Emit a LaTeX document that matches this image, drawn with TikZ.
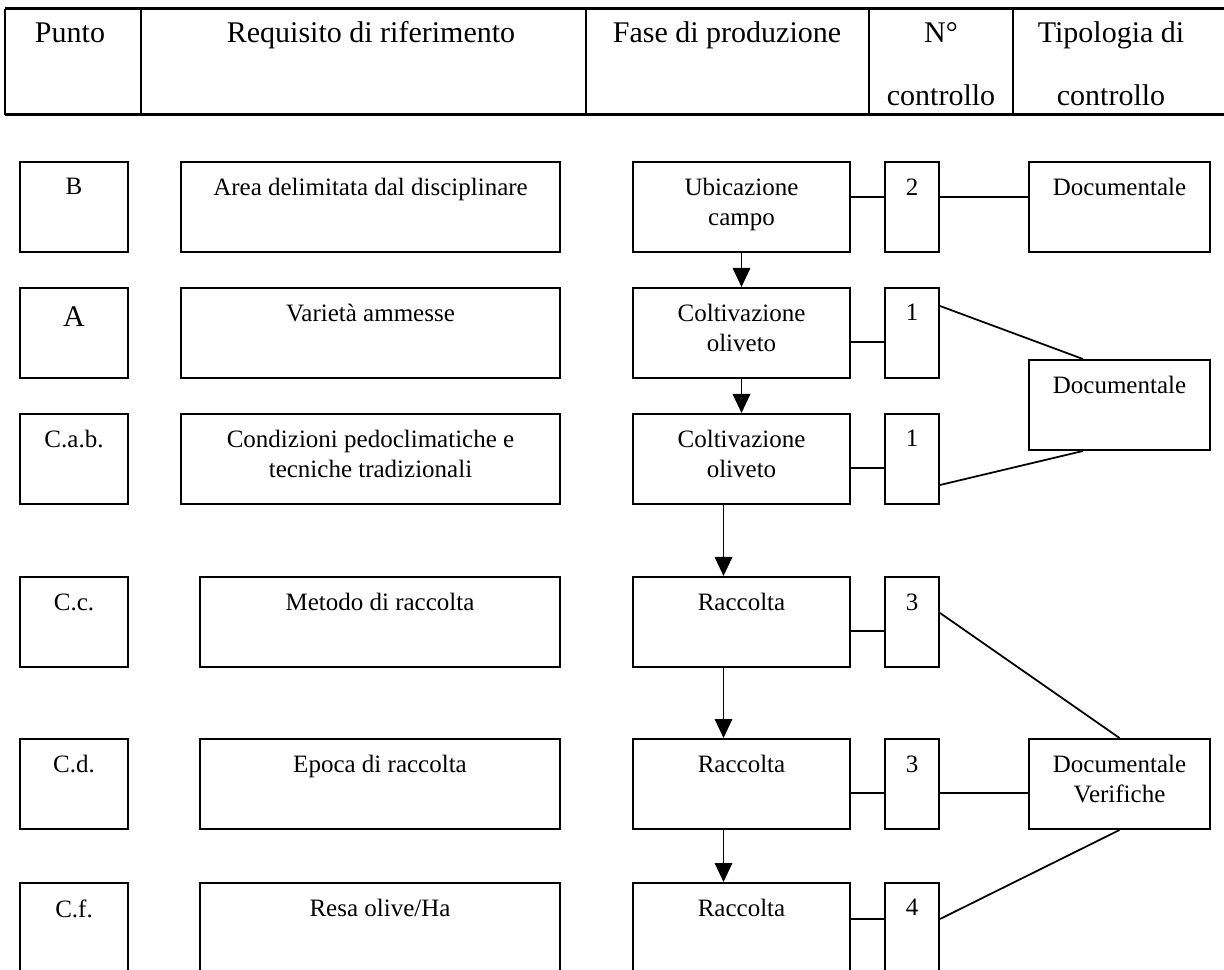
\documentclass[tikz,border=0pt]{standalone}
\usepackage{fontspec}
\setmainfont{Liberation Serif}
\usetikzlibrary{arrows.meta,calc}

\tikzset{
  cellbox/.style={draw,line width=0.8pt,minimum height=36pt,inner sep=0pt},
  ptbox/.style={cellbox,minimum width=43.2pt},
  reqbox/.style={cellbox,minimum width=151.6pt},
  reqshort/.style={cellbox,minimum width=144pt},
  fasebox/.style={cellbox,minimum width=86.8pt},
  numbox/.style={cellbox,minimum width=21.6pt},
  tipobox/.style={cellbox,minimum width=72.4pt},
  intext/.style={label={[align=center,anchor=north,inner sep=0pt,yshift=-6.8pt]north:#1}},
  hdtext/.style={anchor=base,align=center,inner sep=0pt,font=\fontsize{12pt}{25.2pt}\selectfont},
  link/.style={line width=0.7pt},
  flow/.style={line width=0.7pt,-{Triangle[width=7pt,length=7.6pt]}}
}

\begin{document}
\begin{tikzpicture}[x=0.4pt,y=-0.4pt,font=\fontsize{10pt}{12pt}\selectfont]
\useasboundingbox (0,0) rectangle (1224,970);
% intestazione
\draw[line width=1.2pt] (5,9) -- (1224,9);
\draw[line width=1.2pt] (5,115) -- (1224,115);
\foreach \xc in {5,141,586,869,1013} \draw[line width=0.6pt] (\xc,9) -- (\xc,115);
\node[hdtext] (hdPunto) at (70,43) {Punto};
\node[hdtext] (hdReq) at (371,43) {Requisito di riferimento};
\node[hdtext] (hdFase) at (727,43) {Fase di produzione};
\node[hdtext] (hdNum) at (941,106) {N°\\controllo};
\node[hdtext] (hdTipo) at (1111,106) {Tipologia di\\controllo};

% righe
\node[ptbox,intext=B] (pt1) at (74,207) {};
\node[reqbox,intext=Area delimitata dal disciplinare] (req1) at (370.5,207) {};
\node[fasebox,intext=Ubicazione\\campo] (fase1) at (741.5,207) {};
\node[numbox,intext=2] (num1) at (912,207) {};
\node[tipobox,intext=Documentale] (tipo1) at (1119.5,207) {};

\node[ptbox,label={[anchor=north,inner sep=0pt,yshift=-7.6pt,font=\fontsize{12pt}{14pt}\selectfont]north:A}] (pt2) at (74,333) {};
\node[reqbox,intext=Varietà ammesse] (req2) at (370.5,333) {};
\node[fasebox,intext=Coltivazione\\oliveto] (fase2) at (741.5,333) {};
\node[numbox,intext=1] (num2) at (912,333) {};
\node[tipobox,intext=Documentale] (tipo2) at (1119.5,405) {};

\node[ptbox,intext=C.a.b.] (pt3) at (74,459) {};
\node[reqbox,intext=Condizioni pedoclimatiche e\\tecniche tradizionali] (req3) at (370.5,459) {};
\node[fasebox,intext=Coltivazione\\oliveto] (fase3) at (741.5,459) {};
\node[numbox,intext=1] (num3) at (912,459) {};

\node[ptbox,intext=C.c.] (pt4) at (74,622) {};
\node[reqshort,intext=Metodo di raccolta] (req4) at (380,622) {};
\node[fasebox,intext=Raccolta] (fase4) at (741.5,622) {};
\node[numbox,intext=3] (num4) at (912,622) {};
\node[tipobox,intext=Documentale\\Verifiche] (tipo3) at (1119.5,784) {};

\node[ptbox,intext=C.d.] (pt5) at (74,784) {};
\node[reqshort,intext=Epoca di raccolta] (req5) at (380,784) {};
\node[fasebox,intext=Raccolta] (fase5) at (741.5,784) {};
\node[numbox,intext=3] (num5) at (912,784) {};

\node[ptbox,intext=C.f.] (pt6) at (74,928) {};
\node[reqshort,intext=Resa olive/Ha] (req6) at (380,928) {};
\node[fasebox,intext=Raccolta] (fase6) at (741.5,928) {};
\node[numbox,intext=4] (num6) at (912,928) {};

% frecce
\draw[flow] (fase1.south) -- (fase2.north);
\draw[flow] (fase2.south) -- (fase3.north);
\draw[flow] ([xshift=-7.2pt]fase3.south) -- ([xshift=-7.2pt]fase4.north);
\draw[flow] ([xshift=-7.2pt]fase4.south) -- ([xshift=-7.2pt]fase5.north);
\draw[flow] ([xshift=-7.2pt]fase5.south) -- ([xshift=-7.2pt]fase6.north);

% collegamenti
\draw[link] ([yshift=4pt]fase1.east) -- ([yshift=4pt]num1.west);
\draw[link] ([yshift=4pt]num1.east) -- ([yshift=4pt]tipo1.west);
\draw[link] ([yshift=-3.6pt]fase2.east) -- ([yshift=-3.6pt]num2.west);
\draw[link] ([yshift=10.8pt]num2.east) -- ($(tipo2.north west)!0.3!(tipo2.north east)$);
\draw[link] ([yshift=-3.6pt]fase3.east) -- ([yshift=-3.6pt]num3.west);
\draw[link] ([yshift=-10.4pt]num3.east) -- ($(tipo2.south west)!0.3!(tipo2.south east)$);
\draw[link] ([yshift=-3.6pt]fase4.east) -- ([yshift=-3.6pt]num4.west);
\draw[link] ([yshift=3.6pt]num4.east) -- (tipo3.north);
\draw[link] ([yshift=-3.6pt]fase5.east) -- ([yshift=-3.6pt]num5.west);
\draw[link] ([yshift=-3.6pt]num5.east) -- ([yshift=-3.6pt]tipo3.west);
\draw[link] ([yshift=3.6pt]fase6.east) -- ([yshift=3.6pt]num6.west);
\draw[link] ([yshift=3.6pt]num6.east) -- (tipo3.south);
\end{tikzpicture}
\end{document}
